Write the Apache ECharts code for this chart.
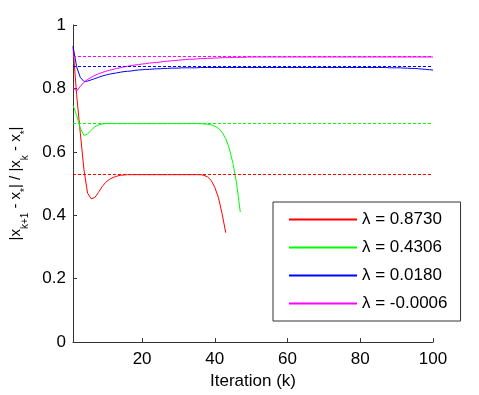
<!DOCTYPE html>
<html>
<head>
<meta charset="utf-8">
<script src="https://cdn.jsdelivr.net/npm/echarts@6/dist/echarts.min.js"></script>
<style>
html,body{margin:0;padding:0;background:#fff;}
#chart{width:479px;height:395px;}
</style>
</head>
<body>
<div id="chart"></div>
<script>
// Legend labels
var seriesNames = ['λ = 0.8730', 'λ = 0.4306', 'λ = 0.0180', 'λ = -0.0006'];
// Asymptotic ratios (dashed lines)
var limits = [0.527, 0.6875, 0.8667, 0.899];

// Ratio values per iteration, starting at k = 1
var redValues = [
  0.93, 0.78, 0.66, 0.545, 0.47, 0.452, 0.456, 0.472, 0.49, 0.504,
  0.513, 0.519, 0.523, 0.526, 0.527, 0.528, 0.528, 0.528, 0.528, 0.528,
  0.528, 0.528, 0.528, 0.528, 0.528, 0.528, 0.528, 0.528, 0.528, 0.528,
  0.528, 0.528, 0.528, 0.528, 0.528, 0.528, 0.526, 0.521, 0.51, 0.488,
  0.455, 0.405, 0.345
];
var greenValues = [
  0.747, 0.715, 0.675, 0.652, 0.656, 0.668, 0.679, 0.685, 0.688, 0.689,
  0.689, 0.689, 0.689, 0.689, 0.689, 0.689, 0.689, 0.689, 0.689, 0.689,
  0.689, 0.689, 0.689, 0.689, 0.689, 0.689, 0.689, 0.689, 0.689, 0.689,
  0.689, 0.689, 0.689, 0.689, 0.689, 0.689, 0.688, 0.687, 0.685, 0.681,
  0.674, 0.662, 0.642, 0.61, 0.563, 0.5, 0.41
];
var blueValues = [
  0.934, 0.868, 0.835, 0.822, 0.823, 0.827, 0.831, 0.835, 0.839, 0.842,
  0.845, 0.847, 0.849, 0.851, 0.853, 0.854, 0.855, 0.857, 0.858, 0.859,
  0.860, 0.860, 0.861, 0.862, 0.862, 0.863, 0.863, 0.864, 0.864, 0.864,
  0.865, 0.865, 0.865, 0.865, 0.865, 0.866, 0.866, 0.866, 0.866, 0.866,
  0.866, 0.866, 0.866, 0.866, 0.866, 0.866, 0.866, 0.866, 0.866, 0.866,
  0.866, 0.866, 0.866, 0.866, 0.866, 0.866, 0.866, 0.866, 0.866, 0.866,
  0.866, 0.866, 0.866, 0.866, 0.866, 0.866, 0.866, 0.866, 0.866, 0.866,
  0.866, 0.866, 0.866, 0.866, 0.866, 0.866, 0.866, 0.866, 0.866, 0.866,
  0.866, 0.866, 0.866, 0.866, 0.866, 0.866, 0.866, 0.865, 0.865, 0.865,
  0.865, 0.864, 0.864, 0.863, 0.863, 0.862, 0.861, 0.860, 0.859, 0.858
];
var magentaValues = [
  0.802, 0.792, 0.806, 0.819, 0.828, 0.835, 0.841, 0.846, 0.850, 0.854,
  0.857, 0.860, 0.863, 0.865, 0.868, 0.870, 0.872, 0.874, 0.875, 0.877,
  0.878, 0.880, 0.881, 0.882, 0.883, 0.885, 0.886, 0.887, 0.888, 0.889,
  0.890, 0.891, 0.892, 0.892, 0.893, 0.894, 0.894, 0.895, 0.895, 0.896,
  0.896, 0.897, 0.897, 0.897, 0.898, 0.898, 0.898, 0.898, 0.899, 0.899,
  0.899, 0.899, 0.899, 0.899, 0.899, 0.899, 0.899, 0.899, 0.899, 0.899,
  0.899, 0.899, 0.899, 0.899, 0.899, 0.899, 0.899, 0.899, 0.899, 0.899,
  0.899, 0.899, 0.899, 0.899, 0.899, 0.899, 0.899, 0.899, 0.899, 0.899,
  0.899, 0.899, 0.899, 0.899, 0.899, 0.899, 0.899, 0.899, 0.899, 0.899,
  0.899, 0.899, 0.899, 0.899, 0.899, 0.899, 0.899, 0.899, 0.899, 0.899
];

var colors = ['#ff0000', '#00ff00', '#0000ff', '#ff00ff'];
var allValues = [redValues, greenValues, blueValues, magentaValues];
var FONT = '"Liberation Sans", Arial, sans-serif';

function toPairs(arr) {
  return arr.map(function (v, i) { return [i + 1, v]; });
}

var series = allValues.map(function (vals, idx) {
  return {
    name: seriesNames[idx],
    type: 'line',
    data: toPairs(vals),
    symbol: 'none',
    smooth: false,
    color: colors[idx],
    itemStyle: { color: colors[idx] },
    lineStyle: { color: colors[idx], width: 1 },
    markLine: {
      silent: true,
      symbol: 'none',
      label: { show: false },
      lineStyle: { color: colors[idx], width: 1, type: [3, 2] },
      data: [{ yAxis: limits[idx] }]
    }
  };
});

var chart = echarts.init(document.getElementById('chart'), null, { renderer: 'canvas' });
chart.setOption({
  animation: false,
  backgroundColor: '#fff',
  textStyle: { fontFamily: FONT },
  grid: { left: 70, right: 46, top: 25, bottom: 51, containLabel: false },
  legend: {
    orient: 'vertical',
    left: 273,
    top: 202,
    selectedMode: false,
    data: seriesNames,
    itemStyle: { opacity: 0, borderWidth: 0 },
    itemWidth: 68,
    itemHeight: 17,
    itemGap: 11,
    padding: [9, 13, 9, 15],
    borderColor: '#333',
    borderWidth: 1,
    backgroundColor: '#fff',
    textStyle: { fontFamily: FONT, fontSize: 17, color: '#000' }
  },
  xAxis: {
    type: 'value',
    min: 1,
    max: 100,
    splitNumber: 5,
    name: 'Iteration (k)',
    nameLocation: 'middle',
    nameGap: 27,
    nameTextStyle: { fontFamily: FONT, fontSize: 17, color: '#000' },
    axisLine: { show: true, lineStyle: { color: '#333', width: 1 } },
    axisTick: { show: true, inside: true, length: 4, lineStyle: { color: '#333' } },
    axisLabel: { fontFamily: FONT, fontSize: 17, color: '#000', margin: 9, showMinLabel: false },
    splitLine: { show: false }
  },
  yAxis: {
    type: 'value',
    min: 0,
    max: 1,
    interval: 0.2,
    name: '{n||x}{s|k+1}{n| - x}{s|*}{n|| / |x}{s|k}{n| - x}{s|*}{n||}',
    nameLocation: 'middle',
    nameRotate: 90,
    nameGap: 43,
    nameTextStyle: {
      fontFamily: FONT,
      color: '#000',
      rich: {
        n: { fontFamily: FONT, fontSize: 15, color: '#000', lineHeight: 29, verticalAlign: 'middle' },
        s: { fontFamily: FONT, fontSize: 10, color: '#000', lineHeight: 10, verticalAlign: 'bottom' }
      }
    },
    axisLine: { show: true, lineStyle: { color: '#333', width: 1 } },
    axisTick: { show: true, inside: true, length: 4, lineStyle: { color: '#333' } },
    axisLabel: { fontFamily: FONT, fontSize: 17, color: '#000', margin: 7 },
    splitLine: { show: false }
  },
  series: series
});
</script>
</body>
</html>
